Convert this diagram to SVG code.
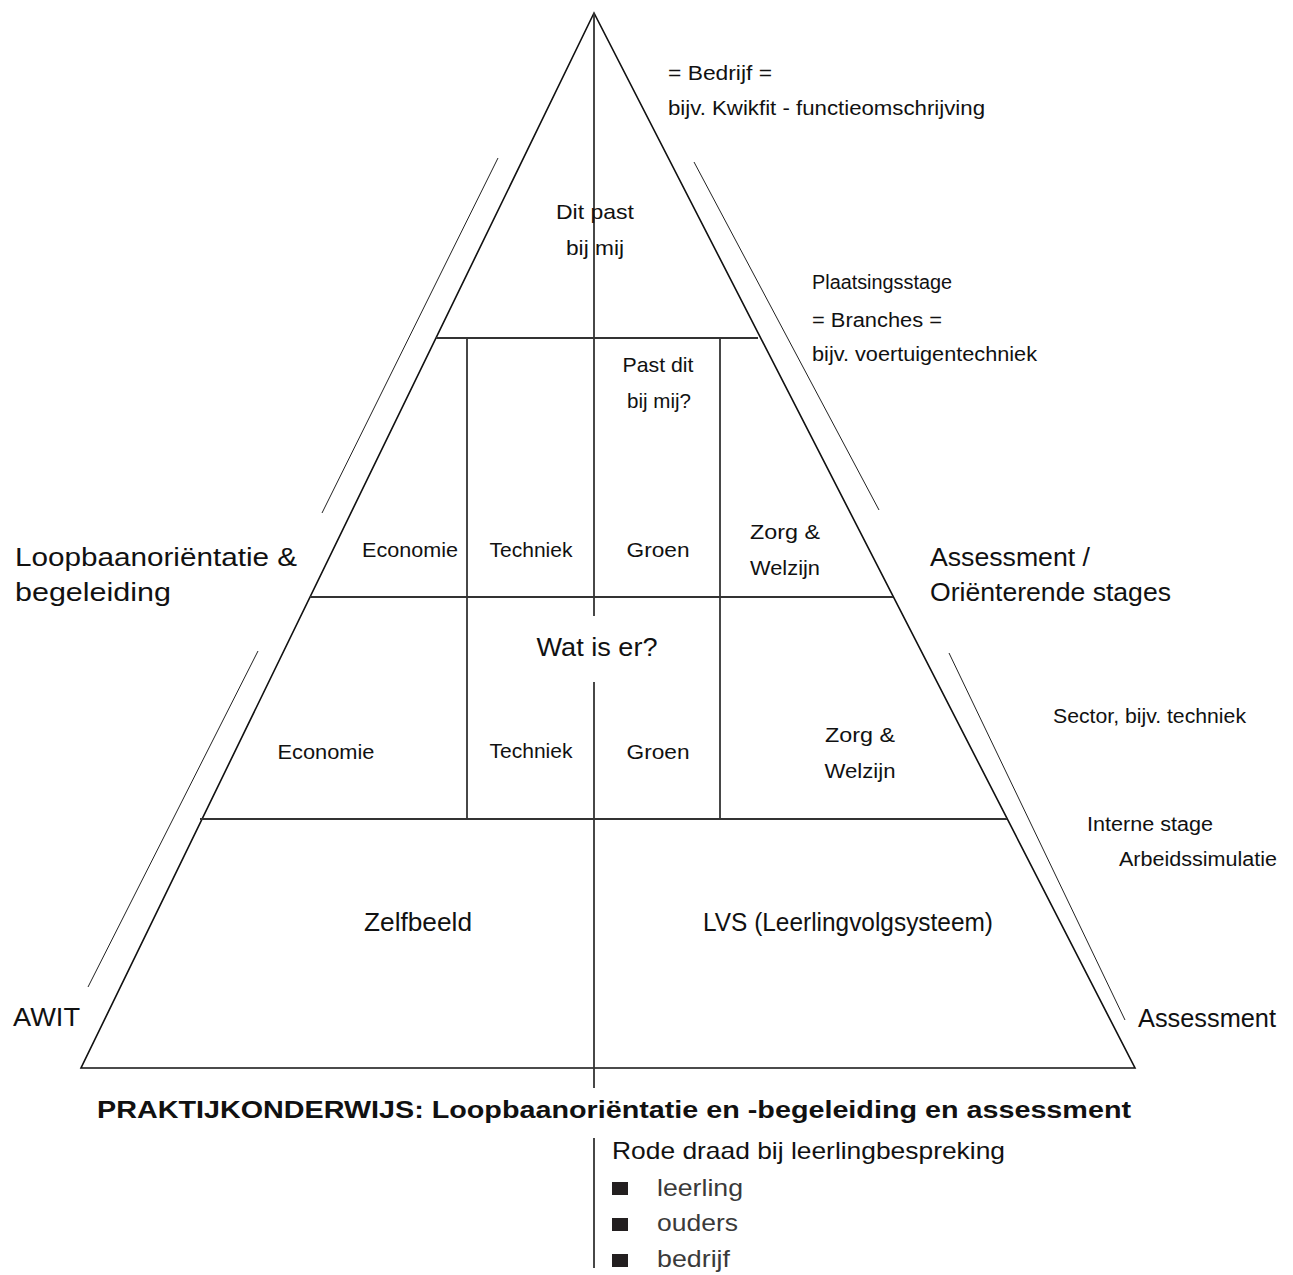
<svg xmlns="http://www.w3.org/2000/svg" width="1293" height="1275" viewBox="0 0 1293 1275">
<style>
text{font-family:"Liberation Sans","DejaVu Sans",sans-serif;fill:#111}
.s{font-size:20px}
.m{font-size:21px}
.l{font-size:25px}
.c{text-anchor:middle}
.t{fill:none;stroke:#111;stroke-width:1.6}
.g{stroke:#333;stroke-width:1.8}
.th{stroke:#222;stroke-width:1}
.b{fill:#231f20}
.li{font-size:24px;fill:#3a3a3a}
</style>
<rect width="1293" height="1275" fill="#fff"/>
<g id="pyramid">
<polygon class="t" points="594,13 81,1068 1135,1068"/>
<line class="g" x1="436" y1="338" x2="758" y2="338"/>
<line class="g" x1="310" y1="597" x2="893" y2="597"/>
<line class="g" x1="200" y1="819" x2="1007" y2="819"/>
<line class="g" x1="594" y1="13" x2="594" y2="616"/>
<line class="g" x1="594" y1="682" x2="594" y2="1088"/>
<line class="g" x1="467" y1="338" x2="467" y2="819"/>
<line class="g" x1="720" y1="338" x2="720" y2="819"/>
</g>
<g id="side-lines">
<line class="th" x1="498" y1="158" x2="322" y2="513"/>
<line class="th" x1="258" y1="651" x2="88" y2="987"/>
<line class="th" x1="694" y1="162" x2="879" y2="510"/>
<line class="th" x1="949" y1="653" x2="1125" y2="1020"/>
</g>
<g id="top-labels">
<text class="s" x="668" y="80" textLength="104" lengthAdjust="spacingAndGlyphs">= Bedrijf =</text>
<text class="s" x="668" y="115" textLength="317" lengthAdjust="spacingAndGlyphs">bijv. Kwikfit - functieomschrijving</text>
<text class="m c" x="595" y="219" textLength="78" lengthAdjust="spacingAndGlyphs">Dit past</text>
<text class="m c" x="595" y="255" textLength="58" lengthAdjust="spacingAndGlyphs">bij mij</text>
<text class="s" x="812" y="289" textLength="140" lengthAdjust="spacingAndGlyphs">Plaatsingsstage</text>
<text class="s" x="812" y="327" textLength="130" lengthAdjust="spacingAndGlyphs">= Branches =</text>
<text class="s" x="812" y="361" textLength="225" lengthAdjust="spacingAndGlyphs">bijv. voertuigentechniek</text>
</g>
<g id="sector-row">
<text class="m c" x="658" y="372" textLength="71" lengthAdjust="spacingAndGlyphs">Past dit</text>
<text class="m c" x="659" y="408" textLength="64" lengthAdjust="spacingAndGlyphs">bij mij?</text>
<text class="m c" x="410" y="557" textLength="96" lengthAdjust="spacingAndGlyphs">Economie</text>
<text class="m c" x="531" y="557" textLength="83" lengthAdjust="spacingAndGlyphs">Techniek</text>
<text class="m c" x="658" y="557" textLength="63" lengthAdjust="spacingAndGlyphs">Groen</text>
<text class="m c" x="785" y="539" textLength="70" lengthAdjust="spacingAndGlyphs">Zorg &amp;</text>
<text class="m c" x="785" y="575" textLength="70" lengthAdjust="spacingAndGlyphs">Welzijn</text>
</g>
<g id="side-labels">
<text class="l" x="15" y="566" textLength="282" lengthAdjust="spacingAndGlyphs">Loopbaanoriëntatie &amp;</text>
<text class="l" x="15" y="601" textLength="156" lengthAdjust="spacingAndGlyphs">begeleiding</text>
<text class="l" x="930" y="566" textLength="160" lengthAdjust="spacingAndGlyphs">Assessment /</text>
<text class="l" x="930" y="601" textLength="241" lengthAdjust="spacingAndGlyphs">Oriënterende stages</text>
<text class="s" x="1053" y="723" textLength="193" lengthAdjust="spacingAndGlyphs">Sector, bijv. techniek</text>
<text class="s" x="1087" y="831" textLength="126" lengthAdjust="spacingAndGlyphs">Interne stage</text>
<text class="s" x="1119" y="866" textLength="158" lengthAdjust="spacingAndGlyphs">Arbeidssimulatie</text>
<text class="l" x="13" y="1026" textLength="67" lengthAdjust="spacingAndGlyphs">AWIT</text>
<text class="l" x="1138" y="1027" textLength="138" lengthAdjust="spacingAndGlyphs">Assessment</text>
</g>
<g id="what-row">
<text class="l c" x="597" y="656" textLength="121" lengthAdjust="spacingAndGlyphs">Wat is er?</text>
<text class="m c" x="326" y="759" textLength="97" lengthAdjust="spacingAndGlyphs">Economie</text>
<text class="m c" x="531" y="758" textLength="83" lengthAdjust="spacingAndGlyphs">Techniek</text>
<text class="m c" x="658" y="759" textLength="63" lengthAdjust="spacingAndGlyphs">Groen</text>
<text class="m c" x="860" y="742" textLength="70" lengthAdjust="spacingAndGlyphs">Zorg &amp;</text>
<text class="m c" x="860" y="778" textLength="71" lengthAdjust="spacingAndGlyphs">Welzijn</text>
</g>
<g id="base-row">
<text class="l c" x="418" y="931" textLength="108" lengthAdjust="spacingAndGlyphs">Zelfbeeld</text>
<text class="l c" x="848" y="931" textLength="290" lengthAdjust="spacingAndGlyphs">LVS (Leerlingvolgsysteem)</text>
</g>
<g id="title">
<text x="97" y="1118" font-size="23" font-weight="bold" textLength="1034" lengthAdjust="spacingAndGlyphs">PRAKTIJKONDERWIJS: Loopbaanoriëntatie en -begeleiding en assessment</text>
</g>
<g id="legend">
<line class="g" x1="594" y1="1138" x2="594" y2="1268"/>
<text x="612" y="1159" font-size="24" textLength="393" lengthAdjust="spacingAndGlyphs">Rode draad bij leerlingbespreking</text>
<rect class="b" x="612" y="1182" width="16" height="13"/>
<rect class="b" x="612" y="1218" width="16" height="13"/>
<rect class="b" x="612" y="1254" width="16" height="13"/>
<text class="li" x="657" y="1196" textLength="86" lengthAdjust="spacingAndGlyphs">leerling</text>
<text class="li" x="657" y="1231" textLength="81" lengthAdjust="spacingAndGlyphs">ouders</text>
<text class="li" x="657" y="1267" textLength="73" lengthAdjust="spacingAndGlyphs">bedrijf</text>
</g>
</svg>
